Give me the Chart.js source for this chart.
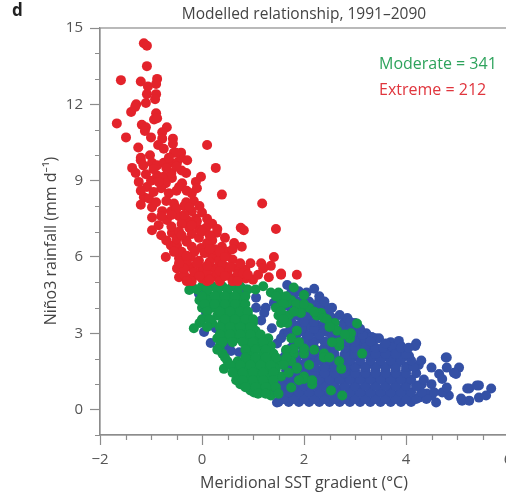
<!DOCTYPE html>
<html>
<head>
<meta charset="utf-8">
<script src="https://cdn.jsdelivr.net/npm/chart.js@4.4.1/dist/chart.umd.min.js"></script>
<style>
  html, body { margin: 0; padding: 0; background: #fff; overflow: hidden; }
  #wrap { width: 506px; height: 496px; overflow: hidden; }
</style>
</head>
<body>
<div id="wrap"><canvas id="scatterChart" width="520" height="496"></canvas></div>
<script>
// tick positions
const xTicks = [-2, 0, 2, 4, 6];
const yTicks = [0, 3, 6, 9, 12, 15];
const xMinor = [-1.5, -1, -0.5, 0.5, 1, 1.5, 2.5, 3, 3.5, 4.5, 5, 5.5];
const yMinor = [-1, 1, 2, 4, 5, 7, 8, 10, 11, 13, 14];

// extreme events (red), [sst gradient, rainfall]
const redPts = [
  [-1.14,14.4],[-1.08,14.3],[-1.08,13.5],[-1.59,12.95],[-1.2,12.9],[-0.88,13.0],[-0.9,12.8],
  [-1.06,12.7],[-1.08,12.4],[-0.9,12.4],[-0.92,12.2],[-1.29,12.0],[-1.1,12.05],[-1.39,11.7],
  [-1.31,11.9],[-0.9,11.65],[-0.94,11.4],[-0.88,11.45],[-1.67,11.25],[-1.18,11.2],[-1.1,11.1],
  [-1.12,10.95],[-0.69,11.1],[-0.78,10.9],[-1.49,10.7],[-1.0,10.7],[-0.78,10.65],[-0.57,10.65],
  [-0.57,10.45],[-0.86,10.4],[0.1,10.4],[-0.41,10.1],[-0.55,10.1],[-1.02,10.0],[-1.2,9.9],
  [-1.2,9.8],[-1.37,9.5],[-0.98,9.7],[-0.88,9.6],[-0.75,9.7],[-0.61,9.7],[-0.49,9.7],[-0.41,9.9],
  [-0.29,9.8],[-0.51,10.1],[-0.88,9.2],[-0.75,9.15],[-0.59,9.1],[-0.31,9.3],[-0.02,9.15],[0.27,9.5],
  [-1.24,8.95],[-0.71,8.9],[-0.39,8.9],[-0.12,8.95],[-1.08,8.75],[-0.65,8.5],[0.39,8.45],[-1.14,8.35],
  [-1.04,8.3],[-0.55,8.1],[-0.31,8.15],[-0.16,8.2],[-0.98,7.95],[-0.78,7.8],[-0.45,7.6],[-0.2,7.8],
  [0.0,7.75],[1.18,8.1],[-0.98,7.55],[-0.69,7.45],[-0.29,7.45],[-0.12,7.5],[-0.25,7.15],[-0.06,7.1],
  [0.08,7.15],[-0.98,7.05],[-0.8,6.85],[-0.59,6.95],[-0.2,6.9],[-0.06,6.75],[0.29,6.95],[0.76,7.15],
  [0.82,7.05],[1.45,7.1],[-0.61,6.45],[-0.49,6.45],[-0.31,6.65],[-0.2,6.4],[-0.02,6.35],[0.2,6.65],
  [0.39,6.4],[0.63,6.55],[0.78,6.4],[-0.71,6.0],[-0.45,5.95],[-0.22,6.0],[-0.06,5.85],[0.2,6.05],
  [0.33,5.85],[1.41,6.0],[1.16,5.75],[1.35,5.65],[-0.49,5.55],[-0.22,5.6],[0.0,5.55],[0.24,5.55],
  [0.47,5.6],[0.67,5.55],[-0.45,5.2],[-0.22,5.15],[0.0,5.15],[0.2,5.2],[0.39,5.2],[0.59,5.15],
  [0.86,5.15],[1.31,5.2],[1.55,5.3],[1.86,5.3],
  [-0.35,5.3],[-0.15,5.4],[0.1,5.35],[0.3,5.3],[0.5,5.4],[0.7,5.3],[-0.3,5.8],[-0.1,5.75],
  [0.15,5.8],[0.4,5.7],[0.6,5.9],[-0.4,6.2],[-0.15,6.2],[0.05,6.15],[0.25,6.3],[0.5,6.2],
  [-0.3,6.6],[0.1,6.55],[0.35,6.2],[-0.5,6.7],[0.0,7.0],[-0.4,7.3],[-0.1,7.4],[0.2,7.3],
  [-0.6,7.8],[-0.35,8.0],[-0.5,8.6],[-0.2,8.5],[-0.8,8.7],[-0.6,9.3],[-1.0,9.0],[-0.4,9.4],
  [0.1,5.05],[0.35,5.05],[0.6,5.05],[-0.2,5.05],[0.85,5.5],[1.0,5.1],[0.95,5.75],[-0.65,9.9],
  [-0.75,10.25],[-1.25,10.3],[1.55,5.35],
  [-1.15,9.6],[-0.95,9.45],[-0.7,9.5],[-0.5,9.55],[-1.3,9.3],[-1.1,9.25],
  [-1.2,8.6],[-0.95,8.55],[-0.85,8.95],[-0.45,8.75],[-0.3,8.6],[-0.1,8.7],
  [-1.2,8.05],[-0.9,8.15],[-0.7,8.2],[-0.5,7.9],[-0.25,7.95],[-0.05,8.0],[-0.8,7.6],[-0.6,7.65],
  [-0.35,7.65],[0.1,7.5],[-0.85,7.25],[-0.6,7.2],[-0.45,7.0],[-0.2,7.25],[0.15,6.85],[0.3,7.1],
  [-0.7,6.65],[0.45,6.75],[-0.4,6.85],[-0.55,6.2],[-0.3,6.05],[0.15,6.3],[0.45,6.0],[0.6,6.3],
  [0.75,5.75],[-0.35,5.55],[0.1,5.65],[0.35,5.45],[0.55,5.6],[0.8,5.35],[-0.05,5.25],[0.15,5.1],
  [0.45,5.25],[0.7,5.05],[0.9,5.3],[1.1,5.3],[1.2,5.55],[-0.3,5.05],[-0.45,5.75]
];

// moderate events (green)
const greenPts = [
  [-0.2,4.85],[0.0,4.85],[0.2,4.85],[0.4,4.85],[0.6,4.85],[0.75,4.85],[1.2,4.85],
  [0.1,4.6],[0.3,4.6],[0.5,4.6],[0.7,4.6],[1.35,4.6],[1.5,4.6],
  [-0.05,4.3],[0.15,4.3],[0.35,4.3],[0.55,4.3],[0.75,4.3],[1.55,4.3],[1.75,4.3],
  [0.0,4.0],[0.2,4.0],[0.4,4.0],[0.6,4.0],[0.8,4.0],[1.45,4.0],[1.9,4.0],[2.1,4.0],
  [0.3,3.7],[0.5,3.7],[0.7,3.7],[0.9,3.7],[1.5,3.7],[1.7,3.7],[2.25,3.7],[2.35,3.7],
  [-0.05,3.4],[0.2,3.4],[0.4,3.4],[0.6,3.4],[0.8,3.4],[1.0,3.4],[1.55,3.4],[1.67,3.4],[2.6,3.4],
  [0.45,3.1],[0.65,3.1],[0.85,3.1],[1.05,3.1],[1.86,3.1],[2.65,3.1],
  [0.3,2.8],[0.5,2.8],[0.7,2.8],[0.9,2.8],[1.1,2.8],[1.3,2.8],[1.75,2.8],[2.9,2.8],
  [0.35,2.5],[0.95,2.5],[1.15,2.5],[1.35,2.5],[2.69,2.5],
  [0.4,2.2],[1.0,2.2],[1.2,2.2],[1.4,2.2],[1.8,2.2],[2.0,2.2],[2.39,2.2],[3.14,2.2],
  [0.5,1.9],[0.7,1.9],[0.9,1.9],[1.1,1.9],[1.3,1.9],[1.5,1.9],[1.75,1.9],[2.69,1.9],
  [0.43,1.6],[0.65,1.6],[0.85,1.6],[1.05,1.6],[1.25,1.6],[1.45,1.6],[1.86,1.6],[2.73,1.6],
  [0.7,1.3],[0.9,1.3],[1.1,1.3],[1.3,1.3],[1.55,1.3],[2.0,1.3],
  [0.75,1.0],[0.95,1.0],[1.15,1.0],[1.35,1.0],[2.16,1.0],
  [0.95,0.75],[1.15,0.75],[1.3,0.75],[2.53,0.75],
  [1.35,0.55],[2.75,0.55],
  [-0.25,4.7],[-0.16,3.2],[1.8,4.8],[2.0,4.5],[1.67,4.2],[1.94,3.8],[2.33,3.8],[2.39,3.6],
  [3.04,3.38],[2.92,3.0],[2.69,2.65],[2.39,2.05],[1.8,2.4],[2.0,2.4],[1.86,1.65],[2.0,1.2],
  [1.75,0.87],[2.16,1.15],[1.02,0.67],[0.67,1.15],[0.92,0.9],
  [-0.1,4.72],[0.1,4.72],[0.3,4.72],[0.5,4.72],[0.9,4.72],[1.05,4.72],
  [0.0,4.45],[0.25,4.45],[0.45,4.45],[0.65,4.45],[0.85,4.45],[1.45,4.45],[1.65,4.45],
  [0.05,4.15],[0.25,4.15],[0.45,4.15],[0.65,4.15],[0.85,4.15],[1.6,4.15],[1.85,4.15],[2.0,4.15],
  [0.1,3.85],[0.35,3.85],[0.55,3.85],[0.75,3.85],[0.9,3.85],[1.55,3.85],[1.8,3.85],[2.2,3.85],
  [0.0,3.55],[0.15,3.55],[0.45,3.55],[0.65,3.55],[0.85,3.55],[1.0,3.55],[1.6,3.55],[2.45,3.55],
  [0.1,3.25],[0.35,3.25],[0.55,3.25],[0.75,3.25],[0.95,3.25],[2.5,3.25],
  [0.35,2.95],[0.55,2.95],[0.75,2.95],[0.95,2.95],[1.15,2.95],[2.8,2.95],
  [0.4,2.65],[0.6,2.65],[0.8,2.65],[1.0,2.65],[1.2,2.65],[1.9,2.65],[2.55,2.65],
  [0.3,2.35],[0.85,2.35],[1.05,2.35],[1.25,2.35],[1.65,2.35],[2.2,2.35],
  [0.45,2.05],[0.85,2.05],[1.05,2.05],[1.25,2.05],[1.45,2.05],[1.65,2.05],[2.5,2.05],
  [0.55,1.75],[0.75,1.75],[0.95,1.75],[1.15,1.75],[1.35,1.75],[1.6,1.75],[2.1,1.75],
  [0.6,1.45],[0.8,1.45],[1.0,1.45],[1.2,1.45],[1.4,1.45],[1.7,1.45],
  [0.8,1.15],[1.0,1.15],[1.2,1.15],[1.4,1.15],[1.9,1.15],
  [0.85,0.88],[1.05,0.88],[1.25,0.88],[1.45,0.88],
  [1.1,0.62],[1.25,0.62],[1.5,0.62]
];

// remaining years (blue)
const bluePts = [
  [-0.06,4.55],[0.08,3.8],[0.04,3.05],[0.17,2.62],[0.27,3.2],[0.49,2.5],[0.57,2.3],[0.73,2.25],
  [0.86,4.72],[1.06,4.4],[1.06,4.0],[1.25,4.0],[1.22,3.8],[1.16,3.5],[1.41,4.2],[1.37,3.2],
  [1.47,2.6],[1.61,3.0],[1.27,0.87],[1.47,0.28],[1.61,0.75],[1.75,1.15],[1.7,0.43],
  [1.67,4.9],[2.2,4.75],[1.9,4.65],[2.3,4.3],[2.55,4.0],[2.78,3.4],[3.0,3.4],[3.2,2.9],
  [3.4,2.8],[3.47,2.8],[3.57,2.5],[3.7,2.65],[3.9,2.5],[4.18,2.5],[4.78,2.05],[4.5,1.65],
  [5.04,1.65],[5.67,0.83],[5.43,0.95],[5.24,0.83],[5.1,0.35],[5.43,0.47],
  [1.5,0.3],[1.7,0.3],[1.9,0.3],[2.1,0.3],[2.3,0.3],[2.5,0.3],[2.7,0.3],[2.9,0.3],[3.1,0.3],
  [3.3,0.3],[3.5,0.3],[3.7,0.3],[3.9,0.3],[4.1,0.3],[4.59,0.28],[5.24,0.35],
  [1.6,0.55],[1.8,0.55],[2.0,0.55],[2.2,0.55],[2.4,0.55],[2.6,0.55],[2.85,0.55],[3.0,0.55],
  [3.2,0.55],[3.4,0.55],[3.6,0.55],[3.8,0.55],[4.0,0.55],[4.25,0.47],[4.5,0.55],[4.84,0.55],
  [5.08,0.43],[5.57,0.55],
  [1.45,0.8],[1.9,0.8],[2.1,0.8],[2.3,0.8],[2.7,0.8],[2.9,0.8],[3.1,0.8],[3.3,0.8],[3.5,0.8],
  [3.7,0.8],[3.9,0.8],[4.06,0.63],[4.41,0.63],[4.71,0.67],[5.2,0.83],[5.39,0.95],
  [1.55,1.05],[1.95,1.05],[2.35,1.05],[2.55,1.05],[2.8,1.05],[3.0,1.05],[3.2,1.05],[3.4,1.05],
  [3.6,1.05],[3.8,1.05],[4.0,1.05],[4.2,0.95],[4.5,1.0],[4.8,0.87],
  [1.8,1.3],[2.2,1.3],[2.45,1.3],[2.65,1.3],[2.9,1.3],[3.1,1.3],[3.3,1.3],[3.5,1.3],[3.7,1.3],
  [3.9,1.3],[4.06,1.15],[4.31,1.0],[4.71,1.2],[4.98,1.4],
  [1.65,1.55],[2.1,1.55],[2.3,1.55],[2.5,1.55],[2.85,1.55],[3.0,1.55],[3.2,1.55],[3.4,1.55],
  [3.6,1.55],[3.8,1.55],[4.0,1.55],[4.65,1.4],[4.94,1.45],
  [1.9,1.8],[2.15,1.8],[2.45,1.8],[2.55,1.8],[2.9,1.8],[3.1,1.8],[3.3,1.8],[3.5,1.8],[3.7,1.8],
  [3.82,1.8],[4.25,1.75],[4.8,1.65],
  [1.6,2.05],[2.2,2.05],[2.6,2.05],[2.8,2.05],[2.95,2.05],[3.35,2.05],[3.55,2.05],[3.75,2.05],
  [3.92,2.05],[4.06,2.1],[4.8,2.05],
  [1.65,2.3],[2.1,2.3],[2.3,2.3],[2.5,2.3],[2.85,2.3],[3.05,2.3],[3.25,2.3],[3.45,2.3],
  [3.65,2.3],[3.86,2.3],
  [1.9,2.55],[2.15,2.55],[2.45,2.55],[2.95,2.55],[3.15,2.55],[3.35,2.55],[3.73,2.45],[4.2,2.6],
  [1.55,2.8],[2.05,2.8],[2.3,2.8],[2.55,2.8],[2.75,2.8],[3.05,2.8],[3.2,2.75],[3.86,2.7],
  [1.7,3.05],[2.0,3.05],[2.2,3.05],[2.45,3.05],[2.8,3.05],[3.05,3.05],[3.22,3.0],[3.33,2.85],
  [1.85,3.3],[2.1,3.3],[2.3,3.3],[2.5,3.3],[2.78,3.3],[2.98,3.3],
  [1.6,3.6],[1.95,3.6],[2.15,3.6],[2.55,3.6],[2.85,3.6],
  [1.75,3.85],[1.95,3.85],[2.15,3.85],[2.45,3.85],
  [1.65,4.1],[1.85,4.1],[2.0,4.1],[2.2,4.1],[2.4,4.1],
  [1.55,4.4],[1.8,4.4],[2.0,4.4],[2.3,4.45],
  [1.6,0.42],[1.8,0.42],[2.0,0.42],[2.2,0.42],[2.4,0.42],[2.6,0.42],[2.8,0.42],[3.0,0.42],
  [3.2,0.42],[3.4,0.42],[3.6,0.42],[3.8,0.42],[4.0,0.42],[4.2,0.42],[4.4,0.42],
  [1.7,0.68],[1.9,0.68],[2.1,0.68],[2.3,0.68],[2.5,0.68],[2.7,0.68],[2.9,0.68],[3.1,0.68],
  [3.3,0.68],[3.5,0.68],[3.7,0.68],[3.9,0.68],[4.1,0.68],[4.3,0.68],[4.55,0.68],
  [1.6,0.93],[1.8,0.93],[2.0,0.93],[2.2,0.93],[2.4,0.93],[2.6,0.93],[2.8,0.93],[3.0,0.93],
  [3.2,0.93],[3.4,0.93],[3.6,0.93],[3.8,0.93],[4.0,0.93],[4.2,0.93],
  [1.7,1.18],[1.9,1.18],[2.1,1.18],[2.3,1.18],[2.5,1.18],[2.7,1.18],[2.9,1.18],[3.1,1.18],
  [3.3,1.18],[3.5,1.18],[3.7,1.18],[3.9,1.18],[4.1,1.18],[4.35,1.18],
  [1.9,1.43],[2.0,1.43],[2.2,1.43],[2.4,1.43],[2.6,1.43],[2.8,1.43],[3.0,1.43],[3.2,1.43],
  [3.4,1.43],[3.6,1.43],[3.8,1.43],[4.0,1.43],[4.2,1.43],
  [1.75,1.68],[2.0,1.68],[2.2,1.68],[2.4,1.68],[2.6,1.68],[2.8,1.68],[3.0,1.68],[3.2,1.68],
  [3.4,1.68],[3.6,1.68],[3.8,1.68],[4.0,1.68],[4.15,1.68],
  [1.85,1.93],[2.05,1.93],[2.3,1.93],[2.5,1.93],[2.7,1.93],[2.9,1.93],[3.1,1.93],[3.3,1.93],
  [3.5,1.93],[3.7,1.93],[3.9,1.93],[4.1,1.93],[4.3,1.93],
  [1.75,2.18],[1.95,2.18],[2.15,2.18],[2.4,2.18],[2.6,2.18],[2.8,2.18],[3.0,2.18],[3.2,2.18],
  [3.4,2.18],[3.6,2.18],[3.8,2.18],[4.0,2.18],
  [1.75,2.43],[2.0,2.43],[2.2,2.43],[2.4,2.43],[2.6,2.43],[2.8,2.43],[3.0,2.43],[3.2,2.43],
  [3.4,2.43],[3.55,2.43],[3.9,2.43],[4.05,2.43],
  [1.8,2.68],[2.0,2.68],[2.2,2.68],[2.4,2.68],[2.6,2.68],[2.85,2.68],[3.0,2.68],[3.3,2.68],[3.6,2.6],
  [1.85,2.93],[2.1,2.93],[2.3,2.93],[2.55,2.93],[2.7,2.93],[2.95,2.93],[3.15,2.93],
  [1.75,3.18],[1.95,3.18],[2.2,3.18],[2.4,3.18],[2.6,3.18],[2.9,3.18],[3.1,3.18],
  [1.75,3.45],[2.0,3.45],[2.2,3.45],[2.4,3.45],[2.6,3.45],[2.9,3.45],
  [1.85,3.72],[2.05,3.72],[2.3,3.72],[2.5,3.72],[2.7,3.72],
  [1.8,3.98],[2.1,3.98],[2.3,3.98],[2.5,3.98],
  [1.7,4.25],[1.9,4.25],[2.1,4.25],[2.4,4.25],
  [1.75,4.6],[2.05,4.6]
];

const redColor = "#e3232b";
const greenColor = "#13984a";
const blueColor = "#3450a5";
const axisColor = "#8c8c8c";
const labelColor = "#555555";
const fontFamily = "'Open Sans', 'Noto Sans', sans-serif";

const toPoints = (pts) => pts.map((p) => ({ x: p[0], y: p[1] }));

// frame, minor ticks and the free texts
const extrasPlugin = {
  id: "extras",
  afterDraw(chart) {
    const { ctx, chartArea: a, scales } = chart;
    ctx.save();
    ctx.strokeStyle = axisColor;
    ctx.lineWidth = 1.2;
    ctx.strokeRect(a.left, a.top, a.right - a.left, a.bottom - a.top);

    ctx.beginPath();
    xMinor.forEach((v) => {
      const p = Math.round(scales.x.getPixelForValue(v)) + 0.5;
      ctx.moveTo(p, a.bottom);
      ctx.lineTo(p, a.bottom + 5);
    });
    yMinor.forEach((v) => {
      const p = Math.round(scales.y.getPixelForValue(v)) + 0.5;
      ctx.moveTo(a.left, p);
      ctx.lineTo(a.left - 5, p);
    });
    ctx.stroke();

    ctx.textBaseline = "middle";
    ctx.fillStyle = "#222";
    ctx.font = "bold 17px " + fontFamily;
    ctx.textAlign = "left";
    ctx.fillText("d", 12, 11);

    ctx.fillStyle = "#444";
    ctx.font = "15.5px " + fontFamily;
    ctx.textAlign = "center";
    ctx.fillText("Modelled relationship, 1991\u20132090", (a.left + a.right) / 2, 15);

    ctx.textAlign = "left";
    ctx.font = "16px " + fontFamily;
    ctx.fillStyle = "#2ea35c";
    ctx.fillText("Moderate = 341", 379, 64);
    ctx.fillStyle = "#e0353d";
    ctx.fillText("Extreme = 212", 379, 90);

    // y axis title
    ctx.save();
    ctx.translate(51, 241);
    ctx.rotate(-Math.PI / 2);
    ctx.textAlign = "center";
    ctx.fillStyle = "#444";
    ctx.font = "16px " + fontFamily;
    ctx.fillText("Ni\u00f1o3 rainfall (mm d\u207b\u00b9)", 0, 0);
    ctx.restore();
    ctx.restore();
  },
};

const dotStyle = { pointRadius: 5, pointHoverRadius: 5, borderWidth: 0 };

new Chart(document.getElementById("scatterChart"), {
  type: "scatter",
  data: {
    datasets: [
      { label: "Extreme", data: toPoints(redPts), backgroundColor: redColor, order: 1, ...dotStyle },
      { label: "Moderate", data: toPoints(greenPts), backgroundColor: greenColor, order: 2, ...dotStyle },
      { label: "Other", data: toPoints(bluePts), backgroundColor: blueColor, order: 3, ...dotStyle },
    ],
  },
  options: {
    responsive: false,
    animation: false,
    layout: { padding: { left: 0, top: 28, right: 12, bottom: 0 } },
    plugins: { legend: { display: false }, tooltip: { enabled: false } },
    scales: {
      x: {
        type: "linear",
        min: -2,
        max: 6,
        afterBuildTicks: (scale) => { scale.ticks = xTicks.map((v) => ({ value: v })); },
        afterFit: (scale) => { scale.height = 61; },
        ticks: {
          autoSkip: false,
          maxRotation: 0,
          padding: 6,
          color: labelColor,
          font: { family: fontFamily, size: 15 },
          callback: (v) => (v < 0 ? "\u2212" + Math.abs(v) : String(v)),
        },
        grid: { drawOnChartArea: false, tickLength: 10, tickColor: axisColor, tickWidth: 1.2 },
        border: { color: axisColor, width: 1.2 },
        title: {
          display: true,
          text: "Meridional SST gradient (\u00b0C)",
          color: "#444",
          font: { family: fontFamily, size: 16 },
          padding: { top: 0, bottom: 3 },
        },
      },
      y: {
        type: "linear",
        min: -1,
        max: 15,
        afterBuildTicks: (scale) => { scale.ticks = yTicks.map((v) => ({ value: v })); },
        afterFit: (scale) => { scale.width = 100; },
        ticks: {
          autoSkip: false,
          padding: 7,
          color: labelColor,
          font: { family: fontFamily, size: 15 },
        },
        grid: { drawOnChartArea: false, tickLength: 10, tickColor: axisColor, tickWidth: 1.2 },
        border: { color: axisColor, width: 1.2 },
      },
    },
  },
  plugins: [extrasPlugin],
});
</script>
</body>
</html>
